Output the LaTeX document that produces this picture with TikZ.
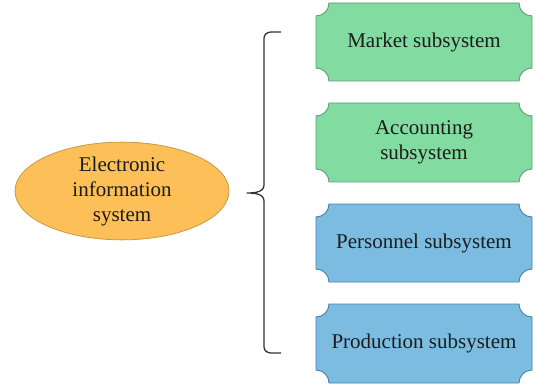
\documentclass[tikz,border=0pt]{standalone}
\usepackage{fontspec}
\setmainfont{Liberation Serif}
\usetikzlibrary{shapes.geometric}

\definecolor{greenfill}{HTML}{82DBA0}
\definecolor{greenline}{HTML}{5E9E72}
\definecolor{bluefill}{HTML}{7BBCE0}
\definecolor{blueline}{HTML}{4A7FA8}
\definecolor{orangefill}{HTML}{FDBF57}
\definecolor{orangeline}{HTML}{C99A45}
\definecolor{inkgray}{HTML}{1C1C1C}
\definecolor{bracegray}{HTML}{333333}

\tikzset{
  label text/.style={font=\fontsize{21}{25}\selectfont, text=inkgray, align=center, inner sep=0pt},
  mainoval/.style={ellipse, draw=orangeline, fill=orangefill, line width=0.8pt,
    minimum width=214pt, minimum height=96pt, label text},
  bracket/.style={draw=bracegray, line width=1.3pt, line join=round},
}

% Box with concave (notched) corners: name, centre x, centre y, height, fill, line, text
\newcommand\notchbox[7]{%
  \begin{scope}[shift={(#2,#3)}]
    \pgfmathsetmacro\hh{#4/2}
    \def\rr{13}
    \def\ww{108}
    \filldraw[fill=#5, draw=#6, line width=0.9pt]
      (-\ww+\rr,\hh) -- (\ww-\rr,\hh)
      arc[start angle=180,end angle=270,radius=\rr pt]
      -- (\ww,-\hh+\rr)
      arc[start angle=90,end angle=180,radius=\rr pt]
      -- (-\ww+\rr,-\hh)
      arc[start angle=0,end angle=90,radius=\rr pt]
      -- (-\ww,\hh-\rr)
      arc[start angle=270,end angle=360,radius=\rr pt]
      -- cycle;
  \end{scope}
  \node[label text] (#1) at (#2,#3) {#7};
}

\begin{document}
\begin{tikzpicture}[x=1pt,y=1pt]
  \useasboundingbox (0,0) rectangle (549,-385);

  % central system
  \node[mainoval] (eis) at (122,-191) {Electronic\\information\\system};

  % subsystems
  \notchbox{market}{424}{-42}{78}{greenfill}{greenline}{Market subsystem}
  \notchbox{accounting}{424}{-142.5}{79}{greenfill}{greenline}{Accounting\\subsystem}
  \notchbox{personnel}{424}{-243}{78}{bluefill}{blueline}{Personnel subsystem}
  \notchbox{production}{424}{-343.5}{79}{bluefill}{blueline}{Production subsystem}

  % curly bracket grouping the subsystems
  \coordinate (tip) at (247,-193);
  \coordinate (top) at (281,-32);
  \coordinate (bottom) at (281,-353);
  \draw[bracket] (top) -- (271,-32) to[out=180,in=90] (264,-38)
    -- (264,-185) to[out=-90,in=0] (tip)
    to[out=0,in=90] (264,-201) -- (264,-347)
    to[out=-90,in=180] (271,-353) -- (bottom);
\end{tikzpicture}
\end{document}
